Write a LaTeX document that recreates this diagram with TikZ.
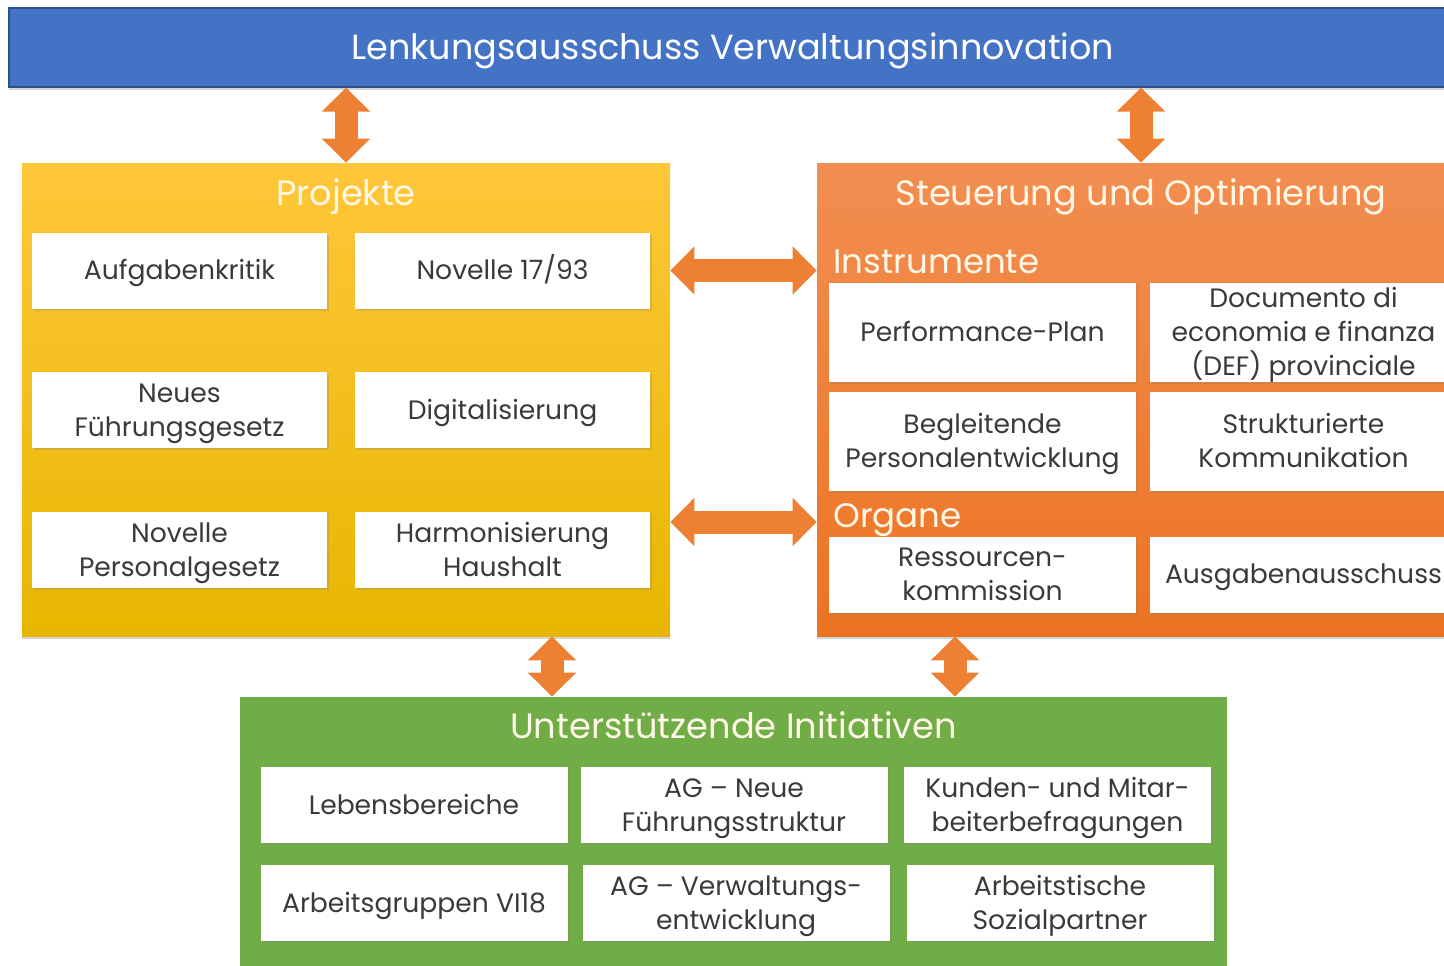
\documentclass[tikz,border=0pt]{standalone}
\usepackage{fontspec}
\setmainfont{Poppins}
\usetikzlibrary{arrows.meta,shadows}
\definecolor{headblue}{RGB}{68,114,196}
\definecolor{projyellow}{RGB}{255,199,58}
\definecolor{projdark}{RGB}{231,182,0}
\definecolor{steuorange}{RGB}{242,142,82}
\definecolor{steudark}{RGB}{236,116,34}
\definecolor{initgreen}{RGB}{112,173,71}
\definecolor{arroworange}{RGB}{238,128,52}
\definecolor{cellgray}{RGB}{58,58,58}
\definecolor{titlewhite}{RGB}{255,248,232}
\newcommand{\headfont}{\fontsize{17.5}{21}\selectfont}
\newcommand{\titlefont}{\fontsize{17.6}{20}\selectfont}
\newcommand{\subfont}{\fontsize{17}{20}\selectfont}
\newcommand{\cellfont}{\fontsize{13.3}{17}\selectfont}

\tikzset{
    frame/.style={inner sep=0pt, drop shadow={opacity=0.35, shadow xshift=0pt, shadow yshift=-1.5pt}},
    titletext/.style={text=titlewhite, font=\titlefont, inner sep=0pt, anchor=base},
    sublabel/.style={text=titlewhite, font=\subfont, inner sep=0pt, anchor=base west},
    cell/.style={fill=white, text=cellgray, align=center, font=\cellfont, inner sep=1pt,
        minimum width=147.5pt, minimum height=38pt, text height=12pt, text depth=2.7pt,
        drop shadow={opacity=0.25, shadow xshift=1pt, shadow yshift=-1pt}},
    widecell/.style={cell, minimum width=153.5pt},
    tallcell/.style={widecell, minimum height=49.5pt},
    twoline/.style={text height=29pt, text depth=2.7pt},
    threeline/.style={text height=45pt, text depth=1.7pt},
    dblarrow/.style={line width=11.5pt, draw=arroworange,
        {Triangle[length=12pt,width=23.5pt]}-{Triangle[length=12pt,width=23.5pt]}}
}

\begin{document}
\begin{tikzpicture}[x=0.5pt, y=-0.5pt]
    \useasboundingbox (0,0) rectangle (1444,965);
    \clip (0,0) rectangle (1444,965);

    % steering committee
    \node[frame, fill=headblue, draw=headblue!70!black, line width=0.6pt, text=white, font=\headfont,
        text height=14pt, text depth=1.8pt, minimum width=724pt, minimum height=39.5pt] (lenkung) at (733,47.5) {Lenkungsausschuss Verwaltungsinnovation};

    % projects
    \node[frame, top color=projyellow, bottom color=projdark, minimum width=324pt, minimum height=236.5pt] (projekte) at (346,399.5) {};
    \node[titletext] (projtitle) at (346,205) {Projekte};
    \node[cell] (p11) at (179.5,270.5) {Aufgabenkritik};
    \node[cell] (p12) at (502.5,270.5) {Novelle 17/93};
    \node[cell, twoline] (p21) at (179.5,410) {Neues\\Führungsgesetz};
    \node[cell] (p22) at (502.5,410) {Digitalisierung};
    \node[cell, twoline] (p31) at (179.5,550) {Novelle\\Personalgesetz};
    \node[cell, twoline] (p32) at (502.5,550) {Harmonisierung\\Haushalt};

    % steering and optimisation
    \node[frame, top color=steuorange, bottom color=steudark, minimum width=324pt, minimum height=236.5pt] (steuerung) at (1141,399.5) {};
    \node[titletext] (steutitle) at (1141,205) {Steuerung und Optimierung};
    \node[sublabel] (instrumente) at (833,273) {Instrumente};
    \node[tallcell] (s11) at (982.5,332.5) {Performance-Plan};
    \node[tallcell, threeline] (s12) at (1303.5,332.5) {Documento di\\economia e finanza\\(DEF) provinciale};
    \node[tallcell, twoline] (s21) at (982.5,441.5) {Begleitende\\Personalentwicklung};
    \node[tallcell, twoline] (s22) at (1303.5,441.5) {Strukturierte\\Kommunikation};
    \node[sublabel] (organe) at (833,527) {Organe};
    \node[widecell, twoline] (s31) at (982.5,574.5) {Ressourcen-\\kommission};
    \node[widecell] (s32) at (1303.5,574.5) {Ausgabenausschuss};

    % supporting initiatives
    \node[frame, fill=initgreen, minimum width=493.5pt, minimum height=151.5pt] (initiativen) at (733.5,848.5) {};
    \node[titletext] (inittitle) at (733.5,738) {Unterstützende Initiativen};
    \node[widecell] (g11) at (414,805) {Lebensbereiche};
    \node[widecell, twoline] (g12) at (734,805) {AG – Neue\\Führungsstruktur};
    \node[widecell, twoline] (g13) at (1057.5,805) {Kunden- und Mitar-\\beiterbefragungen};
    \node[widecell] (g21) at (414,903) {Arbeitsgruppen VI18};
    \node[widecell, twoline] (g22) at (736,903) {AG – Verwaltungs-\\entwicklung};
    \node[widecell, twoline] (g23) at (1060,903) {Arbeitstische\\Sozialpartner};

    % links
    \draw[dblarrow] (projekte.north |- lenkung.south) -- (projekte.north);
    \draw[dblarrow] (steuerung.north |- lenkung.south) -- (steuerung.north);
    \draw[dblarrow] (p12 -| projekte.east) -- (p12 -| steuerung.west);
    \draw[dblarrow] ([yshift=2.5pt]organe.base -| projekte.east) -- ([yshift=2.5pt]organe.base -| steuerung.west);
    \draw[dblarrow] ([xshift=103pt]projekte.south) -- ([xshift=103pt]projekte.south |- initiativen.north);
    \draw[dblarrow] ([xshift=-93pt]steuerung.south) -- ([xshift=-93pt]steuerung.south |- initiativen.north);
\end{tikzpicture}
\end{document}
